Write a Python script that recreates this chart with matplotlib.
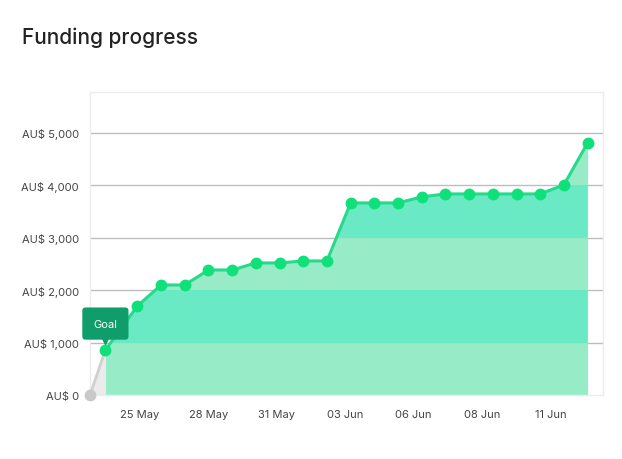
import matplotlib
matplotlib.use("Agg")
import matplotlib.pyplot as plt
from matplotlib.transforms import offset_copy

plt.rcParams["font.family"] = ["Inter", "DejaVu Sans"]

# campaign launch (grey start point)
launch_day = -2.0
launch_amount = 0

# days relative to 25 May, and cumulative amount raised (AU$)
days = [-1.35, 0, 1, 2, 3, 4, 5, 6, 7, 8, 9, 10, 11, 12, 13, 14, 15, 16, 17, 18, 19]
amounts = [859, 1698, 2099, 2099, 2385, 2385, 2519, 2519, 2557, 2557, 3664,
           3664, 3664, 3779, 3836, 3836, 3836, 3836, 3836, 4008, 4809]

tick_days = [0.08, 3.0, 5.87, 8.78, 11.66, 14.57, 17.44]
tick_labels = ["25 May", "28 May", "31 May", "03 Jun", "06 Jun", "08 Jun", "11 Jun"]

y_ticks = [0, 1000, 2000, 3000, 4000, 5000]
y_labels = ["AU$ 0", "AU$ 1,000", "AU$ 2,000", "AU$ 3,000", "AU$ 4,000", "AU$ 5,000"]

teal_bands = [(1000, 2000), (3000, 4000)]

W, H = 622, 460
fig = plt.figure(figsize=(W / 100, H / 100), dpi=100)
ax = fig.add_axes([90 / W, (H - 396) / H, (603 - 90) / W, (396 - 93) / H])

ax.set_xlim(-2.0, 19.65)
ax.set_ylim(0, 5780)

# grid
for v in y_ticks[1:]:
    ax.axhline(v, color="#bdbdbd", lw=1, zorder=1)

# grey launch segment
ax.fill_between([launch_day, days[0]], 0, [launch_amount, amounts[0]],
                color="#ebebeb", lw=0, zorder=2)
ax.plot([launch_day, days[0]], [launch_amount, amounts[0]], color="#cfcfcf",
        lw=2, zorder=3)
ax.plot([launch_day], [launch_amount], "o", color="#c9c9c9", ms=7.5,
        clip_on=False, zorder=4)

# green area with alternating bands
area = ax.fill_between(days, 0, amounts, color="#93ecc5", alpha=0.96, lw=0, zorder=2)
clip = area.get_paths()[0]
for lo, hi in teal_bands:
    band = ax.axhspan(lo, hi, color="#68eac4", alpha=0.96, lw=0, zorder=2)
    band.set_clip_path(clip, transform=ax.transData)

ax.plot(days, amounts, color="#27d98b", lw=2.2, zorder=5)
ax.plot(days, amounts, "o", color="#10e07a", ms=7.5, zorder=6)

# goal tooltip
box_tr = offset_copy(ax.transData, fig=fig, x=0, y=7, units="points")
ax.plot([days[0]], [amounts[0]], marker="v", color="#0f9d6c", ms=6,
        transform=box_tr, zorder=7, clip_on=False)
ax.annotate("Goal", xy=(days[0], amounts[0]), xytext=(0, 19),
            textcoords="offset points", ha="center", va="center",
            fontsize=8, color="white", zorder=8,
            bbox=dict(boxstyle="round,pad=1.0,rounding_size=0.3",
                      fc="#0f9d6c", ec="none"))

ax.set_xticks(tick_days)
ax.set_xticklabels(tick_labels)
ax.set_yticks(y_ticks)
ax.set_yticklabels(y_labels)
ax.tick_params(length=0, labelsize=8, colors="#444444")
ax.tick_params(axis="x", pad=10)
ax.tick_params(axis="y", pad=8)
for s in ax.spines.values():
    s.set_color("#ececec")
    s.set_linewidth(1)

fig.text(22 / W, 1 - 38 / H, "Funding progress", fontsize=15, fontweight="medium",
         color="#222222", va="center", ha="left")

fig.savefig("out.png", dpi=100)
